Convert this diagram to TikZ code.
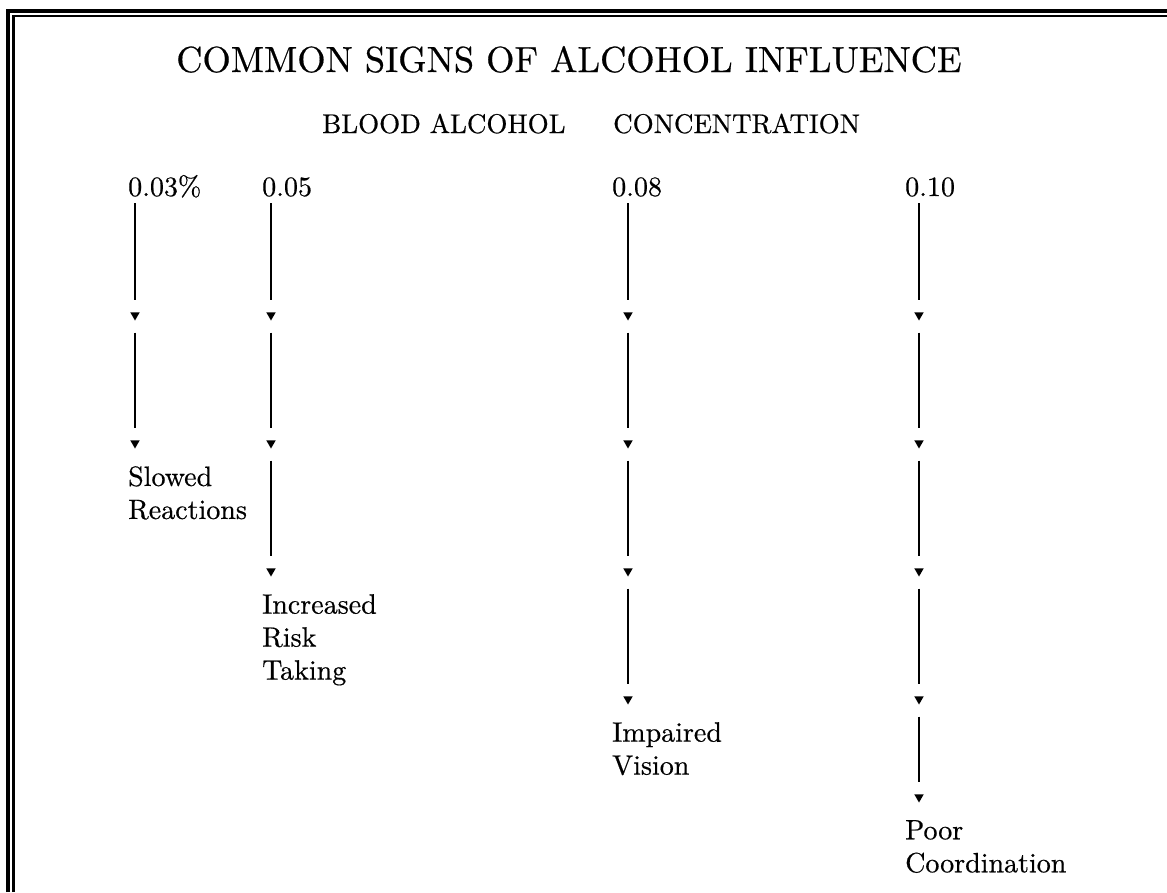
\documentclass[tikz,border=0pt]{standalone}
\usepackage{fontspec}
\setmainfont{lmroman10-regular.otf}[FakeBold=0.5]
\usetikzlibrary{shapes.geometric}
\newcommand{\titlesize}{\fontsize{36.3}{40}\selectfont}
\newcommand{\bodysize}{\fontsize{28}{33}\selectfont}
\newcommand{\headsize}{\fontsize{27}{33}\selectfont}
\tikzset{
  stage/.style={line width=1.8pt},
  tip/.style={regular polygon,regular polygon sides=3,shape border rotate=180,
    fill=black,inner sep=0pt,outer sep=0pt,minimum size=11pt},
  sign/.style={anchor=north west,inner sep=0pt,align=left,font=\bodysize},
  level/.style={anchor=base west,inner sep=0pt,font=\bodysize}
}
\begin{document}
\begin{tikzpicture}[x=1pt,y=-1pt]
        \useasboundingbox (0,0) rectangle (1167,892);
        % double frame, cut at right and bottom
        \draw[line width=3.5pt] (8,892) -- (8,11) -- (1167,11);
        \draw[line width=2.5pt] (13.5,892) -- (13.5,16) -- (1167,16);
        \node[anchor=base,inner sep=0pt,font=\titlesize] (title) at (569,72) {COMMON SIGNS OF ALCOHOL INFLUENCE};
        \node[level,font=\headsize] (bac) at (322,133) {BLOOD ALCOHOL};
        \node[level,font=\headsize] (conc) at (613,133) {CONCENTRATION};
        \node[level] (la) at (128,196) {0.03\%};
        \node[level] (lb) at (262,196) {0.05};
        \node[level] (lc) at (612,196) {0.08};
        \node[level] (ld) at (905,196) {0.10};
        % arrow chains
        \foreach \c/\x/\ys in {a/135/{315,443}, b/271/{315,443,571},
            c/628/{315,443,571,699}, d/919/{315,443,571,699,797}}{
          \coordinate (\c0) at (\x,191);
          \foreach \y [count=\k] in \ys {
            \pgfmathtruncatemacro\j{\k-1}
            \node[tip] (\c\k) at (\x,\y) {};
            \draw[stage,shorten <=12pt,shorten >=12pt] (\c\j) -- (\c\k);
          }
        }
        \node[sign] (sa) at (128,466) {Slowed\\Reactions};
        \node[sign] (sb) at (262,594) {Increased\\Risk\\Taking};
        \node[sign] (sc) at (612,722) {Impaired\\Vision};
        \node[sign] (sd) at (905,820) {Poor\\Coordination};
\end{tikzpicture}
\end{document}
